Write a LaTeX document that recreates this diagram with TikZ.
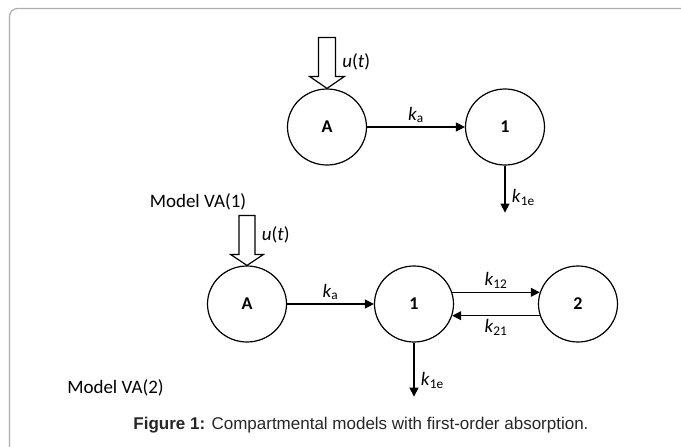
\documentclass[tikz,border=0pt]{standalone}
\usepackage{fontspec}
\setmainfont{Carlito}
\newfontfamily\capfont{Liberation Sans}
\usepackage{tikz}
\usetikzlibrary{shapes.geometric, positioning, arrows.meta}
\newcommand{\kk}[1]{\textit{k}\textsubscript{#1}}

\begin{document}
\begin{tikzpicture}[x=1pt,y=-1pt,on grid,line width=1.2pt,
    >={Triangle[length=9pt,width=9pt]},
    comp/.style={ellipse,draw,minimum width=79pt,minimum height=76pt,inner sep=0pt,
      font=\fontsize{18}{20}\selectfont\bfseries},
    lbl/.style={font=\fontsize{19}{22}\selectfont}]
       \useasboundingbox (0,0) rectangle (681,447);
       \draw[gray!65, line width=1.2pt, rounded corners=8pt] (9.5,447) -- (9.5,8.5) -- (681,8.5);

       % model VA(1)
       \node[comp] (tA) at (327,127) {A};
       \node[comp] (t1) [right=178pt of tA] {1};
       \coordinate[below=47pt of t1.south] (tout);

       \draw (tA.north) -- ++(17.5,-12) -- ++(-9,0)
            -- ++(0,-39) node[lbl,right,pos=0.38,xshift=3pt] {\textit{u}(\textit{t})}
            -- ++(-17,0) -- ++(0,39) -- ++(-9,0) -- cycle;

       \path[->, lbl]
       (tA) edge node [above] {\kk{a}} (t1)
       (t1) edge node [right,pos=0.68,xshift=3pt] {\kk{1e}} (tout);

       \node[lbl] (mod1) at (198,202) {Model VA(1)};

       % model VA(2)
       \node[comp] (bA) at (247,304) {A};
       \node[comp] (b1) [right=167pt of bA] {1};
       \node[comp] (b2) [right=164pt of b1] {2};
       \coordinate[below=54pt of b1.south] (bout);

       \draw (bA.north) -- ++(16.5,-11) -- ++(-8.5,0)
            -- ++(0,-39) node[lbl,right,pos=0.5,xshift=3pt] {\textit{u}(\textit{t})}
            -- ++(-16,0) -- ++(0,39) -- ++(-8.5,0) -- cycle;

       \path[->, lbl]
       (bA) edge node [above] {\kk{a}} (b1)
       (b1.17) edge node [above] {\kk{12}} (b2.163)
       (b2.197) edge node [below] {\kk{21}} (b1.343)
       (b1) edge node [right,pos=0.7,xshift=3pt] {\kk{1e}} (bout);

       \node[lbl] (mod2) at (115.5,388) {Model VA(2)};

       \node[font=\capfont\fontsize{17}{20}\selectfont, text=black!85] (cap) at (361,425)
            {\textbf{Figure 1:} Compartmental models with first-order absorption.};
\end{tikzpicture}
\end{document}
